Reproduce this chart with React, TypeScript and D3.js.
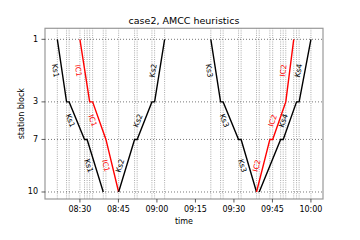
import React from "react";
import * as d3 from "d3";

const W = 360;
const H = 240;

// station blocks and their positions along the line (km, estimated)
const stationIds = [1, 3, 7, 10];
const stationKm = [0, 6.25, 10.0, 15.25];

// x-axis ticks
const tickTimes = ["08:30", "08:45", "09:00", "09:15", "09:30", "09:45", "10:00"];

// trains: station sequence and event times (arrival/departure)
const trainNames = ["Ks1", "IC1", "Ks2", "Ks3", "IC2", "Ks4"];
const trainColors = ["black", "red", "black", "black", "red", "black"];
const ks1Stations = [1, 3, 3, 7, 7, 10];
const ks1Times = ["08:21:12", "08:24:48", "08:25:48", "08:31:48", "08:32:48", "08:39:06"];
const ic1Stations = [1, 3, 3, 7, 10];
const ic1Times = ["08:30:00", "08:33:48", "08:34:57", "08:40:08", "08:45:05"];
const ks2Stations = [10, 7, 7, 3, 3, 1];
const ks2Times = ["08:45:05", "08:51:18", "08:52:18", "08:58:03", "08:59:06", "09:03:00"];
const ks3Stations = [1, 3, 3, 7, 7, 10];
const ks3Times = ["09:21:00", "09:24:48", "09:25:48", "09:31:48", "09:32:48", "09:38:48"];
const ic2Stations = [10, 7, 7, 3, 1];
const ic2Times = ["09:38:48", "09:44:00", "09:45:06", "09:50:12", "09:53:18"];
const ks4Stations = [10, 7, 7, 3, 3, 1];
const ks4Times = ["09:39:51", "09:48:12", "09:49:12", "09:54:24", "09:55:24", "10:00:00"];
// segment labels not shown
const hiddenLabels = ["Ks4:10-7"];

const allStations = [ks1Stations, ic1Stations, ks2Stations, ks3Stations, ic2Stations, ks4Stations];
const allTimes = [ks1Times, ic1Times, ks2Times, ks3Times, ic2Times, ks4Times];

const parse = (s: string) => {
  const p = s.split(":").map(Number);
  return new Date(2020, 0, 1, p[0], p[1], p[2] || 0);
};

const FONT = "DejaVu Sans, sans-serif";

export default function App() {
  const left = 45, right = 323, top = 28.3, bottom = 199;
  const x = d3
    .scaleTime()
    .domain([parse("08:16:24"), parse("10:04:42")])
    .range([left, right]);
  const y = d3.scaleLinear().domain([-1.1, 15.95]).range([top, bottom]);
  const kmOf = (s: number) => stationKm[stationIds.indexOf(s)];

  const trains = trainNames.map((name, i) => ({
    name,
    color: trainColors[i],
    pts: allStations[i].map((s, j) => ({ s, t: parse(allTimes[i][j]) })),
  }));

  const gridTimes = Array.from(
    new Set(trains.flatMap((tr) => tr.pts.map((p) => +p.t)))
  ).map((v) => new Date(v));

  const line = d3
    .line<{ s: number; t: Date }>()
    .x((d) => x(d.t))
    .y((d) => y(kmOf(d.s)));

  const labels: any[] = [];
  trains.forEach((tr) => {
    for (let j = 0; j < tr.pts.length - 1; j++) {
      const a = tr.pts[j], b = tr.pts[j + 1];
      if (a.s === b.s) continue;
      if (hiddenLabels.includes(`${tr.name}:${a.s}-${b.s}`)) continue;
      const x1 = x(a.t), y1 = y(kmOf(a.s)), x2 = x(b.t), y2 = y(kmOf(b.s));
      let ang = (Math.atan2(y2 - y1, x2 - x1) * 180) / Math.PI;
      if (ang > 90) ang -= 180;
      if (ang <= -90) ang += 180;
      labels.push({
        key: `${tr.name}-${j}`,
        text: tr.name,
        color: tr.color,
        cx: (x1 + x2) / 2 - 6.5,
        cy: (y1 + y2) / 2,
        ang,
      });
    }
  });

  return (
    <svg
      width={W}
      height={H}
      style={{ position: "absolute", left: 0, top: 0, background: "white" }}
      fontFamily={FONT}
    >
      <rect x={0} y={0} width={W} height={H} fill="white" />
      <text x={(left + right) / 2} y={24} textAnchor="middle" fontSize={9.5} fill="black">
        case2, AMCC heuristics
      </text>
      {/* vertical dotted gridlines */}
      {gridTimes.map((t, i) => (
        <line
          key={"vg" + i}
          x1={x(t)}
          x2={x(t)}
          y1={top}
          y2={bottom}
          stroke="#8a8a8a"
          strokeWidth={0.8}
          strokeDasharray="0.9,1.3"
        />
      ))}
      {/* horizontal dotted gridlines */}
      {stationIds.map((s) => (
        <line
          key={"hg" + s}
          x1={left}
          x2={right}
          y1={y(kmOf(s))}
          y2={y(kmOf(s))}
          stroke="#555"
          strokeWidth={0.8}
          strokeDasharray="1,2"
        />
      ))}
      {/* trains */}
      {trains.map((tr) => (
        <path key={tr.name} d={line(tr.pts) || ""} fill="none" stroke={tr.color} strokeWidth={1.4} />
      ))}
      {labels.map((l) => (
        <text
          key={l.key}
          x={0}
          y={0}
          transform={`translate(${l.cx},${l.cy}) rotate(${l.ang})`}
          textAnchor="middle"
          dominantBaseline="central"
          fontSize={7.5}
          fill={l.color}
        >
          {l.text}
        </text>
      ))}
      {/* frame */}
      <rect x={left} y={top} width={right - left} height={bottom - top} fill="none" stroke="#999" strokeWidth={1.2} />
      {/* x ticks */}
      {tickTimes.map((tt) => {
        const xx = x(parse(tt));
        return (
          <g key={"xt" + tt}>
            <line x1={xx} x2={xx} y1={bottom} y2={bottom + 3.5} stroke="#333" strokeWidth={0.8} />
            <text x={xx} y={212} textAnchor="middle" fontSize={8} fill="black">
              {tt}
            </text>
          </g>
        );
      })}
      <text x={(left + right) / 2} y={224} textAnchor="middle" fontSize={8} fill="black">
        time
      </text>
      {/* y ticks */}
      {stationIds.map((s) => {
        const yy = y(kmOf(s));
        return (
          <g key={"yt" + s}>
            <line x1={left - 3.5} x2={left} y1={yy} y2={yy} stroke="#333" strokeWidth={0.8} />
            <text x={38} y={yy} textAnchor="end" dominantBaseline="central" fontSize={8} fill="black">
              {s}
            </text>
          </g>
        );
      })}
      <text
        transform={`translate(21.5,${(top + bottom) / 2}) rotate(-90)`}
        textAnchor="middle"
        dominantBaseline="central"
        fontSize={8}
        fill="black"
      >
        station block
      </text>
    </svg>
  );
}
